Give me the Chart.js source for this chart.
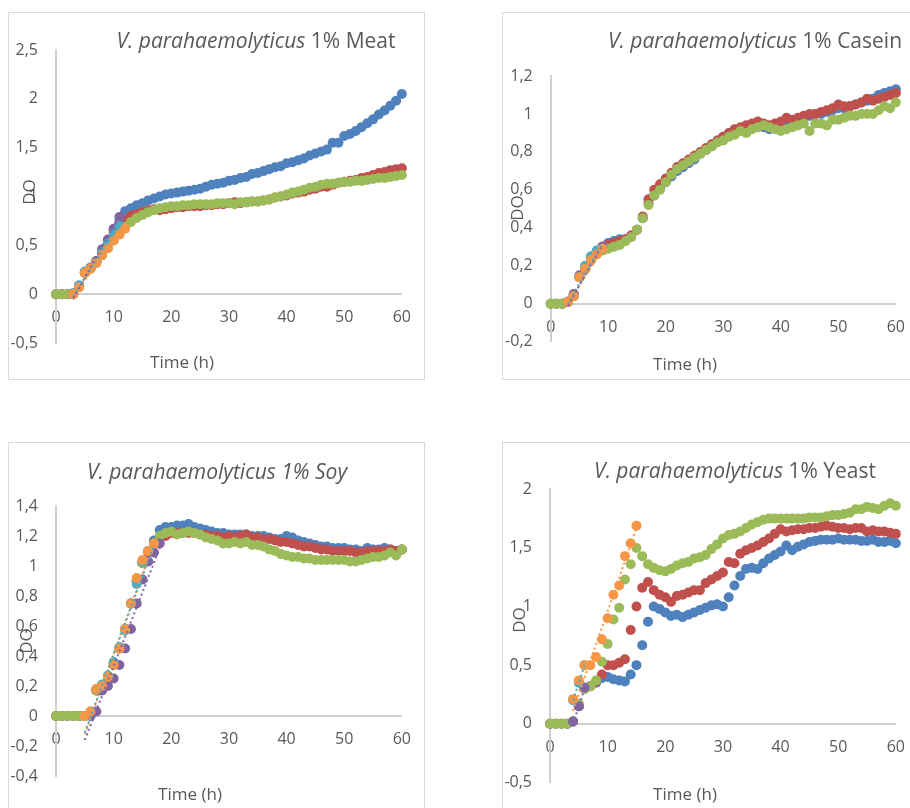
<!DOCTYPE html>
<html>
<head>
<meta charset="utf-8">
<script src="https://cdn.jsdelivr.net/npm/chart.js@4.4.0/dist/chart.umd.min.js"></script>
<style>
    html, body {margin: 0; padding: 0; background: #fff; overflow: hidden}
    #page {position: relative; width: 910px; height: 808px; overflow: hidden}
    .panel {position: absolute; width: 417px; height: 368px; outline: 1px solid #d9d9d9; outline-offset: -1px}
</style>
</head>
<body>
<div id="page">
    <div class="panel" style="left:8px;top:12px"><canvas id="meatChart"></canvas></div>
    <div class="panel" style="left:502px;top:12px"><canvas id="caseinChart"></canvas></div>
    <div class="panel" style="left:8px;top:442px"><canvas id="soyChart"></canvas></div>
    <div class="panel" style="left:502px;top:442px"><canvas id="yeastChart"></canvas></div>
</div>
<script>
// time axis (h)
const HOURS = [0, 1, 2, 3, 4, 5, 6, 7, 8, 9, 10, 11, 12, 13, 14, 15, 16, 17, 18, 19, 20,
    21, 22, 23, 24, 25, 26, 27, 28, 29, 30, 31, 32, 33, 34, 35, 36, 37, 38, 39, 40,
    41, 42, 43, 44, 45, 46, 47, 48, 49, 50, 51, 52, 53, 54, 55, 56, 57, 58, 59, 60];

// ---- 1% Meat ----
const MEAT_BLUE = [0, 0, 0, 0.01, 0.09, 0.23, 0.27, 0.33, 0.43, 0.52,
    0.62, 0.74, 0.85, 0.88, 0.91, 0.93, 0.96, 0.98, 1.0, 1.02,
    1.03, 1.04, 1.05, 1.06, 1.07, 1.08, 1.1, 1.12, 1.13, 1.14,
    1.16, 1.17, 1.19, 1.2, 1.23, 1.24, 1.26, 1.28, 1.3, 1.31,
    1.34, 1.35, 1.37, 1.39, 1.42, 1.44, 1.46, 1.48, 1.55, 1.55,
    1.62, 1.64, 1.67, 1.71, 1.75, 1.79, 1.84, 1.88, 1.93, 1.98,
    2.05];
const MEAT_RED = [0, 0, 0, 0, 0.08, 0.22, 0.27, 0.34, 0.45, 0.55,
    0.65, 0.72, 0.76, 0.8, 0.82, 0.84, 0.86, 0.87, 0.86, 0.87,
    0.88, 0.89, 0.89, 0.9, 0.9, 0.9, 0.91, 0.91, 0.92, 0.92,
    0.93, 0.94, 0.93, 0.94, 0.95, 0.95, 0.96, 0.97, 0.99, 1.0,
    1.01, 1.03, 1.04, 1.05, 1.07, 1.08, 1.1, 1.1, 1.12, 1.14,
    1.15, 1.16, 1.17, 1.19, 1.2, 1.22, 1.24, 1.25, 1.27, 1.28,
    1.29];
const MEAT_GREEN = [0, 0, 0, 0, 0.07, 0.22, 0.26, 0.32, 0.4, 0.47,
    0.55, 0.62, 0.69, 0.74, 0.78, 0.81, 0.84, 0.86, 0.88, 0.89,
    0.9, 0.9, 0.91, 0.91, 0.92, 0.92, 0.92, 0.92, 0.93, 0.93,
    0.93, 0.92, 0.94, 0.94, 0.95, 0.95, 0.96, 0.97, 0.99, 1.0,
    1.02, 1.04, 1.05, 1.07, 1.09, 1.1, 1.12, 1.13, 1.13, 1.14,
    1.15, 1.15, 1.16, 1.16, 1.17, 1.18, 1.19, 1.19, 1.2, 1.21,
    1.22];
const MEAT_PURPLE_H = [3, 4, 5, 6, 7, 8, 9, 10, 11];
const MEAT_PURPLE = [0.0, 0.08, 0.22, 0.27, 0.34, 0.46, 0.56, 0.67, 0.79];
const MEAT_AQUA_H = [3, 4, 5, 6, 7, 8, 9, 10, 11];
const MEAT_AQUA = [0.0, 0.09, 0.23, 0.27, 0.33, 0.43, 0.52, 0.61, 0.7];
const MEAT_ORANGE_H = [3, 4, 5, 6, 7, 8, 9, 10, 11, 12];
const MEAT_ORANGE = [0.0, 0.07, 0.22, 0.26, 0.32, 0.4, 0.47, 0.55, 0.61, 0.67];
const MEAT_TREND_PURPLE = [[3, -0.04], [11, 0.8]];
const MEAT_TREND_AQUA = [[3, -0.02], [11, 0.71]];
const MEAT_TREND_ORANGE = [[3, -0.01], [12, 0.68]];

// ---- 1% Casein ----
const CASEIN_BLUE = [0, 0, 0, 0.01, 0.05, 0.14, 0.19, 0.24, 0.27, 0.3,
    0.32, 0.33, 0.34, 0.34, 0.36, 0.39, 0.45, 0.53, 0.57, 0.61,
    0.64, 0.67, 0.7, 0.72, 0.74, 0.76, 0.79, 0.81, 0.83, 0.86,
    0.88, 0.9, 0.91, 0.92, 0.93, 0.94, 0.93, 0.93, 0.92, 0.93,
    0.94, 0.95, 0.96, 0.97, 0.98, 0.99, 1.0, 1.0, 1.01, 1.02,
    1.03, 1.03, 1.04, 1.05, 1.06, 1.07, 1.08, 1.1, 1.11, 1.12,
    1.13];
const CASEIN_RED = [0, 0, 0, 0.01, 0.05, 0.14, 0.19, 0.24, 0.27, 0.3,
    0.31, 0.32, 0.33, 0.34, 0.36, 0.39, 0.46, 0.55, 0.6, 0.63,
    0.66, 0.69, 0.72, 0.74, 0.76, 0.78, 0.8, 0.82, 0.84, 0.86,
    0.88, 0.9, 0.92, 0.93, 0.94, 0.95, 0.96, 0.95, 0.94, 0.95,
    0.96, 0.98, 0.97, 0.98, 0.99, 1.0, 1.0, 1.01, 1.02, 1.03,
    1.05, 1.04, 1.04, 1.05, 1.06, 1.08, 1.07, 1.08, 1.09, 1.1,
    1.11];
const CASEIN_GREEN = [0, 0, 0, 0.01, 0.04, 0.14, 0.18, 0.23, 0.26, 0.28,
    0.29, 0.3, 0.31, 0.33, 0.35, 0.39, 0.45, 0.52, 0.57, 0.6,
    0.64, 0.68, 0.71, 0.73, 0.75, 0.77, 0.79, 0.81, 0.83, 0.85,
    0.86, 0.88, 0.89, 0.91, 0.9, 0.92, 0.93, 0.94, 0.93, 0.92,
    0.91, 0.92, 0.93, 0.94, 0.95, 0.91, 0.95, 0.95, 0.94, 0.97,
    0.97, 0.98, 0.99, 0.99, 1.0, 1.0, 1.0, 1.02, 1.04, 1.03,
    1.06];
const CASEIN_PURPLE_H = [3, 4, 5, 6, 7, 8, 9];
const CASEIN_PURPLE = [0.01, 0.05, 0.15, 0.19, 0.24, 0.27, 0.3];
const CASEIN_AQUA_H = [3, 4, 5, 6, 7, 8, 9];
const CASEIN_AQUA = [0.01, 0.04, 0.14, 0.2, 0.25, 0.28, 0.29];
const CASEIN_ORANGE_H = [3, 4, 5, 6, 7, 8, 9];
const CASEIN_ORANGE = [0.01, 0.04, 0.14, 0.185, 0.23, 0.26, 0.29];
const CASEIN_TREND_PURPLE = [[3, -0.01], [9, 0.31]];
const CASEIN_TREND_AQUA = [[3, 0.0], [9, 0.32]];
const CASEIN_TREND_ORANGE = [[3, 0.0], [9, 0.29]];

// ---- 1% Soy ----
const SOY_BLUE = [0, 0, 0, 0, 0, 0, 0.02, 0.17, 0.2, 0.26,
    0.35, 0.45, 0.58, 0.75, 0.9, 1.02, 1.1, 1.17, 1.24, 1.26,
    1.26, 1.27, 1.27, 1.28, 1.26, 1.25, 1.24, 1.23, 1.22, 1.22,
    1.21, 1.21, 1.21, 1.21, 1.2, 1.2, 1.2, 1.19, 1.18, 1.18,
    1.2, 1.19, 1.17, 1.16, 1.15, 1.14, 1.13, 1.13, 1.12, 1.12,
    1.12, 1.11, 1.11, 1.1, 1.12, 1.11, 1.11, 1.12, 1.11, 1.1,
    1.11];
const SOY_RED = [0, 0, 0, 0, 0, 0, 0.02, 0.17, 0.2, 0.26,
    0.35, 0.45, 0.58, 0.75, 0.9, 1.02, 1.09, 1.15, 1.19, 1.2,
    1.22, 1.22, 1.22, 1.22, 1.22, 1.21, 1.21, 1.2, 1.2, 1.19,
    1.2, 1.19, 1.2, 1.21, 1.19, 1.19, 1.18, 1.18, 1.17, 1.16,
    1.16, 1.15, 1.14, 1.13, 1.13, 1.12, 1.11, 1.11, 1.1, 1.1,
    1.1, 1.1, 1.09, 1.09, 1.1, 1.1, 1.1, 1.1, 1.11, 1.1,
    1.11];
const SOY_GREEN = [0, 0, 0, 0, 0, 0, 0.02, 0.17, 0.2, 0.26,
    0.34, 0.45, 0.58, 0.75, 0.9, 1.02, 1.1, 1.15, 1.2, 1.22,
    1.23, 1.21, 1.22, 1.23, 1.22, 1.21, 1.19, 1.18, 1.17, 1.15,
    1.15, 1.16, 1.15, 1.16, 1.14, 1.14, 1.13, 1.11, 1.1, 1.08,
    1.07, 1.06, 1.06, 1.05, 1.05, 1.04, 1.04, 1.04, 1.04, 1.04,
    1.04, 1.03, 1.03, 1.04, 1.05, 1.06, 1.06, 1.07, 1.09, 1.07,
    1.11];
const SOY_PURPLE_H = [6, 7, 8, 9, 10, 11, 12, 13, 14, 15, 16, 17, 18];
const SOY_PURPLE = [0.0, 0.03, 0.17, 0.2, 0.25, 0.34, 0.45, 0.58, 0.75, 0.91, 1.03, 1.09, 1.15];
const SOY_AQUA_H = [5, 6, 7, 8, 9, 10, 11, 12, 13, 14, 15, 16, 17];
const SOY_AQUA = [0.0, 0.03, 0.18, 0.21, 0.27, 0.36, 0.46, 0.57, 0.75, 0.88, 1.03, 1.1, 1.15];
const SOY_ORANGE_H = [5, 6, 7, 8, 9, 10, 11, 12, 13, 14, 15, 16, 17];
const SOY_ORANGE = [0.0, 0.03, 0.18, 0.2, 0.26, 0.34, 0.45, 0.58, 0.75, 0.92, 1.04, 1.1, 1.15];
const SOY_TREND_PURPLE = [[5, -0.16], [18, 1.12]];
const SOY_TREND_AQUA = [[5, -0.11], [17, 1.14]];
const SOY_TREND_ORANGE = [[5, -0.12], [17, 1.16]];

// ---- 1% Yeast ----
const YEAST_BLUE = [0, 0, 0, 0, 0.02, 0.15, 0.3, 0.32, 0.35, 0.39,
    0.4, 0.38, 0.37, 0.36, 0.42, 0.5, 0.67, 0.87, 1.0, 0.98,
    0.95, 0.92, 0.93, 0.91, 0.93, 0.95, 0.97, 0.99, 1.01, 1.02,
    1.0, 1.08, 1.18, 1.26, 1.32, 1.33, 1.32, 1.37, 1.41, 1.44,
    1.47, 1.52, 1.48, 1.51, 1.53, 1.55, 1.56, 1.57, 1.57, 1.57,
    1.58, 1.57, 1.57, 1.57, 1.56, 1.56, 1.57, 1.55, 1.55, 1.56,
    1.54];
const YEAST_RED = [0, 0, 0, 0, 0.02, 0.15, 0.3, 0.32, 0.36, 0.42,
    0.5, 0.5, 0.52, 0.55, 0.8, 1.0, 1.16, 1.21, 1.14, 1.1,
    1.08, 1.04, 1.09, 1.1, 1.12, 1.14, 1.14, 1.2, 1.23, 1.26,
    1.29, 1.38, 1.37, 1.45, 1.48, 1.5, 1.52, 1.55, 1.58, 1.62,
    1.66, 1.64, 1.65, 1.66, 1.66, 1.67, 1.67, 1.68, 1.69, 1.68,
    1.67, 1.67, 1.66, 1.67, 1.67, 1.64, 1.65, 1.64, 1.64, 1.63,
    1.62];
const YEAST_GREEN = [0, 0, 0, 0, 0.02, 0.17, 0.3, 0.32, 0.37, 0.53,
    0.68, 0.89, 0.99, 1.23, 1.36, 1.5, 1.43, 1.36, 1.33, 1.31,
    1.3, 1.32, 1.35, 1.37, 1.38, 1.41, 1.42, 1.44, 1.49, 1.53,
    1.58, 1.61, 1.62, 1.64, 1.67, 1.7, 1.72, 1.74, 1.75, 1.75,
    1.75, 1.75, 1.75, 1.75, 1.75, 1.76, 1.76, 1.76, 1.77, 1.78,
    1.78, 1.79, 1.8, 1.83, 1.83, 1.85, 1.84, 1.83, 1.86, 1.88,
    1.86];
const YEAST_PURPLE_H = [4, 5, 6];
const YEAST_PURPLE = [0.02, 0.15, 0.31];
const YEAST_AQUA_H = [4, 5, 6];
const YEAST_AQUA = [0.2, 0.35, 0.5];
const YEAST_ORANGE_H = [4, 5, 6, 7, 8, 9, 10, 11, 12, 13, 14, 15];
const YEAST_ORANGE = [0.21, 0.37, 0.5, 0.5, 0.57, 0.72, 0.9, 1.1, 1.18, 1.43, 1.54, 1.69];
const YEAST_TREND_PURPLE = [[4, 0.0], [6, 0.3]];
const YEAST_TREND_AQUA = [[4, 0.2], [6, 0.5]];
const YEAST_TREND_ORANGE = [[4, 0.11], [15, 1.67]];

const COLORS = {
    blue: '#4F81BD', red: '#C0504D', green: '#9BBB59',
    purple: '#8064A2', aqua: '#4BACC6', orange: '#F79646'
};
const TEXT_COLOR = '#595959';
const AXIS_COLOR = '#d0d0d0';
const FONT = "'Open Sans', sans-serif";

Chart.defaults.font.family = FONT;
Chart.defaults.color = TEXT_COLOR;

const toPoints = (xs, ys) => xs.map((x, i) => ({x, y: ys[i]}));
const fmt = v => String(Math.round(v * 10) / 10).replace('.', ',');

// chart title (italic genus part), "DO" and "Time (h)"
const panelText = {
    id: 'panelText',
    afterDraw(chart, args, opts) {
        const ctx = chart.ctx;
        ctx.save();
        ctx.fillStyle = TEXT_COLOR;
        ctx.textBaseline = 'middle';
        ctx.textAlign = 'left';
        const fontFor = part => `${part.italic ? 'italic ' : ''}${opts.titleSize}px ${FONT}`;
        const widths = opts.title.map(part => {
            ctx.font = fontFor(part);
            return ctx.measureText(part.text).width;
        });
        let x = opts.titleX - widths.reduce((a, b) => a + b, 0) / 2;
        opts.title.forEach((part, i) => {
            ctx.font = fontFor(part);
            ctx.fillText(part.text, x, opts.titleY);
            x += widths[i];
        });
        ctx.font = `${opts.axisSize}px ${FONT}`;
        ctx.textAlign = 'center';
        ctx.fillText('Time (h)', opts.xTitleX, opts.xTitleY);
        ctx.translate(opts.yTitleX, opts.yTitleY);
        ctx.rotate(-Math.PI / 2);
        ctx.fillText('DO', 0, 0);
        ctx.restore();
    }
};

const scatter = (label, xs, ys, color, order) => ({
    label, data: toPoints(xs, ys), order,
    backgroundColor: color, borderColor: color,
    pointRadius: 5, pointBorderWidth: 0, pointHoverRadius: 5,
    showLine: false, clip: false
});
const trend = (label, pts, color) => ({
    label, data: pts.map(([x, y]) => ({x, y})), order: 0,
    borderColor: color, borderWidth: 2, borderDash: [2, 3],
    pointRadius: 0, showLine: true, fill: false, clip: false
});

const makeChart = (canvasId, series, layout) => {
    new Chart(document.getElementById(canvasId), {
        type: 'scatter',
        data: {
            datasets: [
                trend('Trend purple', series.trendPurple, COLORS.purple),
                trend('Trend aqua', series.trendAqua, COLORS.aqua),
                trend('Trend orange', series.trendOrange, COLORS.orange),
                scatter('Orange', series.orangeH, series.orange, COLORS.orange, 1),
                scatter('Aqua', series.aquaH, series.aqua, COLORS.aqua, 2),
                scatter('Purple', series.purpleH, series.purple, COLORS.purple, 3),
                scatter('Green', HOURS, series.green, COLORS.green, 4),
                scatter('Red', HOURS, series.red, COLORS.red, 5),
                scatter('Blue', HOURS, series.blue, COLORS.blue, 6)
            ]
        },
        options: {
            responsive: true,
            maintainAspectRatio: false,
            animation: false,
            events: [],
            layout: {padding: layout.padding},
            plugins: {
                legend: {display: false},
                tooltip: {enabled: false},
                panelText: layout.text
            },
            scales: {
                x: {
                    type: 'linear',
                    position: {y: 0},
                    min: 0, max: 60,
                    ticks: {stepSize: 10, padding: 14, font: {size: 16}},
                    grid: {display: false, drawTicks: false},
                    border: {color: AXIS_COLOR, width: 2}
                },
                y: {
                    min: layout.yMin, max: layout.yMax,
                    ticks: {stepSize: layout.yStep, padding: 18, font: {size: 16}, callback: fmt},
                    grid: {display: false, drawTicks: false},
                    border: {color: AXIS_COLOR, width: 2},
                    afterFit: scale => { scale.width = layout.yWidth; }
                }
            }
        },
        plugins: [panelText]
    });
};

const titleParts = (name, allItalic) => [
    {text: 'V. parahaemolyticus', italic: true},
    {text: ' 1% ' + name, italic: allItalic}
];

makeChart('meatChart', {
    blue: MEAT_BLUE, red: MEAT_RED, green: MEAT_GREEN,
    purpleH: MEAT_PURPLE_H, purple: MEAT_PURPLE,
    aquaH: MEAT_AQUA_H, aqua: MEAT_AQUA,
    orangeH: MEAT_ORANGE_H, orange: MEAT_ORANGE,
    trendPurple: MEAT_TREND_PURPLE, trendAqua: MEAT_TREND_AQUA, trendOrange: MEAT_TREND_ORANGE
}, {
    padding: {left: 0, right: 22, top: 38, bottom: 37}, yWidth: 48,
    yMin: -0.5, yMax: 2.5, yStep: 0.5,
    text: {title: titleParts('Meat', false), titleSize: 21, axisSize: 17,
        titleX: 248, titleY: 30, yTitleX: 22, yTitleY: 180, xTitleX: 174, xTitleY: 351}
});

makeChart('caseinChart', {
    blue: CASEIN_BLUE, red: CASEIN_RED, green: CASEIN_GREEN,
    purpleH: CASEIN_PURPLE_H, purple: CASEIN_PURPLE,
    aquaH: CASEIN_AQUA_H, aqua: CASEIN_AQUA,
    orangeH: CASEIN_ORANGE_H, orange: CASEIN_ORANGE,
    trendPurple: CASEIN_TREND_PURPLE, trendAqua: CASEIN_TREND_AQUA, trendOrange: CASEIN_TREND_ORANGE
}, {
    padding: {left: 0, right: 21.3, top: 64, bottom: 38.3}, yWidth: 48.7,
    yMin: -0.2, yMax: 1.2, yStep: 0.2,
    text: {title: titleParts('Casein', false), titleSize: 21, axisSize: 17,
        titleX: 253, titleY: 30, yTitleX: 16, yTitleY: 196, xTitleX: 183, xTitleY: 353}
});

makeChart('soyChart', {
    blue: SOY_BLUE, red: SOY_RED, green: SOY_GREEN,
    purpleH: SOY_PURPLE_H, purple: SOY_PURPLE,
    aquaH: SOY_AQUA_H, aqua: SOY_AQUA,
    orangeH: SOY_ORANGE_H, orange: SOY_ORANGE,
    trendPurple: SOY_TREND_PURPLE, trendAqua: SOY_TREND_AQUA, trendOrange: SOY_TREND_ORANGE
}, {
    padding: {left: 0, right: 22, top: 64, bottom: 34}, yWidth: 48,
    yMin: -0.4, yMax: 1.4, yStep: 0.2,
    text: {title: titleParts('Soy', true), titleSize: 21, axisSize: 17,
        titleX: 209, titleY: 31, yTitleX: 19, yTitleY: 199, xTitleX: 182, xTitleY: 353}
});

makeChart('yeastChart', {
    blue: YEAST_BLUE, red: YEAST_RED, green: YEAST_GREEN,
    purpleH: YEAST_PURPLE_H, purple: YEAST_PURPLE,
    aquaH: YEAST_AQUA_H, aqua: YEAST_AQUA,
    orangeH: YEAST_ORANGE_H, orange: YEAST_ORANGE,
    trendPurple: YEAST_TREND_PURPLE, trendAqua: YEAST_TREND_AQUA, trendOrange: YEAST_TREND_ORANGE
}, {
    padding: {left: 0, right: 21, top: 47.3, bottom: 27.3}, yWidth: 48,
    yMin: -0.5, yMax: 2, yStep: 0.5,
    text: {title: titleParts('Yeast', false), titleSize: 21, axisSize: 17,
        titleX: 233, titleY: 30, yTitleX: 18.5, yTitleY: 178, xTitleX: 183, xTitleY: 353}
});
</script>
</body>
</html>
